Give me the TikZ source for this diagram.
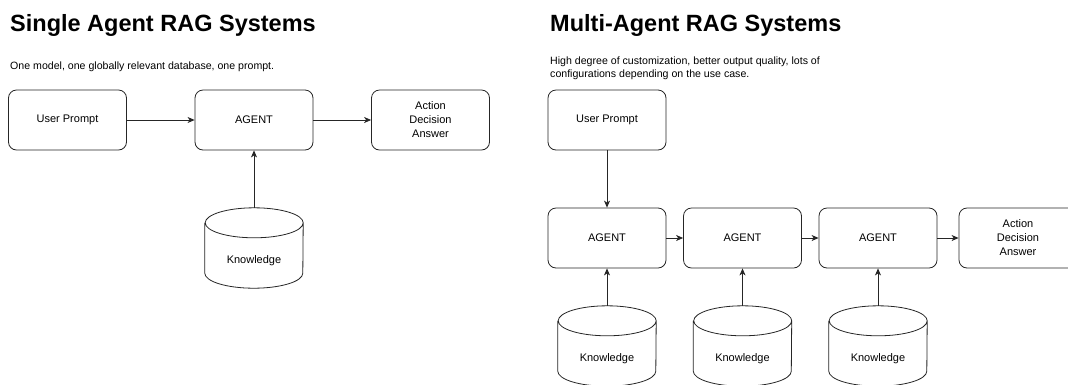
\documentclass[tikz,border=0pt]{standalone}
\usepackage{fontspec}
\setmainfont{Liberation Sans}
\usetikzlibrary{arrows.meta}
\tikzset{
  box/.style={draw=black!85, line width=0.8pt, rounded corners=8pt, minimum width=118pt, minimum height=60pt, inner sep=0pt, align=center, font=\fontsize{11}{14}\selectfont},
  dbase/.style={minimum width=98pt, minimum height=80pt, inner sep=0pt},
  arr/.style={draw=black!85, line width=0.8pt, -{Stealth[length=7pt,width=6pt,inset=2pt]}},
  title/.style={anchor=base west, inner sep=0pt, font=\fontsize{23.5}{28}\selectfont\bfseries},
  sub/.style={anchor=base west, inner sep=0pt, align=left, font=\fontsize{10.6}{13.5}\selectfont},
  lbl/.style={inner sep=0pt, font=\fontsize{11}{14}\selectfont}
}
\newcommand\drawcyl[1]{%
  \draw[draw=black!85, line width=0.8pt] ([yshift=-15pt]#1.north west) -- ([yshift=15pt]#1.south west)
    arc[start angle=180, end angle=360, x radius=49pt, y radius=15pt]
    -- ([yshift=-15pt]#1.north east)
    arc[start angle=0, end angle=180, x radius=49pt, y radius=15pt]
    arc[start angle=180, end angle=360, x radius=49pt, y radius=15pt];%
}
\begin{document}
\begin{tikzpicture}[x=1pt, y=-1pt]
\clip (0,0) rectangle (1068,384);
\fill[white] (0,0) rectangle (1068,384);

% Left panel
\node[title] (t1) at (10,31) {Single Agent RAG Systems};
\node[sub] (s1) at (10,69) {One model, one globally relevant database, one prompt.};
\node[box] (up1) at (67.5,120) {User Prompt};
\node[box] (ag1) at (254,120) {AGENT};
\node[box] (out1) at (430.5,120) {Action\\Decision\\Answer};
\node[dbase] (kb1) at (254,248) {};
\drawcyl{kb1}
\node[lbl] (kl1) at (254,261) {Knowledge};
\draw[arr] (up1) -- (ag1);
\draw[arr] (ag1) -- (out1);
\draw[arr] (kb1.north) -- (ag1.south);

% Right panel
\node[title] (t2) at (550,31) {Multi-Agent RAG Systems};
\node[sub] (s2) at (550,77.5) {High degree of customization, better output quality, lots of\\configurations depending on the use case.};
\node[box] (up2) at (607,120) {User Prompt};
\node[box] (a1) at (607,238) {AGENT};
\node[box] (a2) at (742.5,238) {AGENT};
\node[box] (a3) at (878,238) {AGENT};
\node[box] (out2) at (1018,238) {Action\\Decision\\Answer};
\node[dbase] (k1) at (607,346) {};
\node[dbase] (k2) at (742.5,346) {};
\node[dbase] (k3) at (878,346) {};
\drawcyl{k1}
\drawcyl{k2}
\drawcyl{k3}
\node[lbl] (kl2) at (607,359) {Knowledge};
\node[lbl] (kl3) at (742.5,359) {Knowledge};
\node[lbl] (kl4) at (878,359) {Knowledge};
\draw[arr] (up2) -- (a1);
\draw[arr] (a1) -- (a2);
\draw[arr] (a2) -- (a3);
\draw[arr] (a3) -- (out2);
\draw[arr] (k1.north) -- (a1.south);
\draw[arr] (k2.north) -- (a2.south);
\draw[arr] (k3.north) -- (a3.south);
\end{tikzpicture}
\end{document}
